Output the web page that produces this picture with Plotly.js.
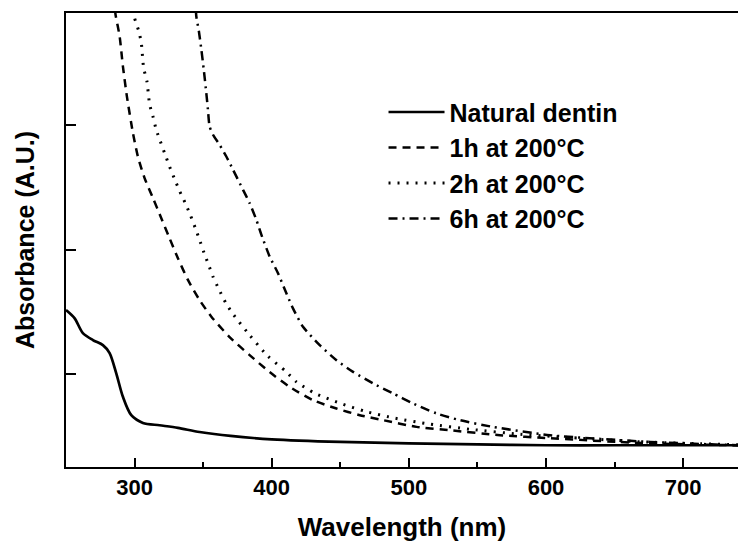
<!DOCTYPE html>
<html>
<head>
<meta charset="utf-8">
<script src="https://cdn.plot.ly/plotly-3.0.1.min.js"></script>
<style>html,body{margin:0;padding:0;background:#fff;}#chart{width:738px;height:543px;}</style>
</head>
<body>
<div id="chart"></div>
<script>
// Natural dentin
var wlNatural = [250, 256.2, 262.3, 269.6, 276.9, 281.8, 286.6, 291.5, 297.6, 306.1, 318.2, 331.6, 347.4, 370, 400, 450, 500, 550, 600, 650, 700, 740];
var absNatural = [1.514, 1.449, 1.328, 1.272, 1.231, 1.167, 1.006, 0.815, 0.667, 0.605, 0.586, 0.565, 0.532, 0.500, 0.473, 0.452, 0.441, 0.432, 0.425, 0.425, 0.425, 0.425];
// 1h at 200°C
var wl1h = [285.8, 286.1, 289.1, 291.5, 294.4, 298.8, 302.4, 307.3, 313.4, 319.5, 325.5, 331.6, 338.9, 347.4, 356.0, 369.3, 383.9, 398.5, 413.1, 430.1, 447.2, 464.2, 481.2, 505.6, 529.9, 566.4, 602.9, 651.6, 700, 740];
var abs1h = [3.93, 3.893, 3.718, 3.476, 3.234, 2.939, 2.750, 2.576, 2.415, 2.253, 2.092, 1.931, 1.756, 1.594, 1.460, 1.296, 1.151, 1.014, 0.895, 0.788, 0.721, 0.667, 0.627, 0.573, 0.546, 0.506, 0.482, 0.452, 0.433, 0.425];
// 2h at 200°C
var wl2h = [299.7, 300, 303.1, 304.9, 306.6, 309.0, 311.0, 313.4, 315.8, 318.8, 321.9, 325.5, 329.2, 332.8, 337.0, 340.9, 344.3, 347.4, 350.6, 354.0, 357.2, 361.5, 366.4, 371.8, 383.9, 397.1, 410.7, 418.0, 431.4, 449.6, 467.9, 489.8, 515.3, 544.5, 581.0, 624.8, 668.6, 712.4, 740];
var abs2h = [3.93, 3.866, 3.758, 3.665, 3.463, 3.355, 3.167, 3.073, 2.965, 2.871, 2.777, 2.669, 2.568, 2.473, 2.374, 2.272, 2.173, 2.078, 1.976, 1.877, 1.782, 1.681, 1.573, 1.481, 1.312, 1.143, 1.016, 0.935, 0.844, 0.764, 0.699, 0.643, 0.595, 0.554, 0.514, 0.482, 0.453, 0.437, 0.429];
// 6h at 200°C
var wl6h = [344.7, 345.0, 346.9, 348.7, 350.6, 352.3, 353.5, 354.7, 357.2, 362.0, 366.9, 371.8, 379.1, 383.9, 388.8, 392.5, 398.5, 404.6, 410.7, 415.5, 422.8, 435.0, 447.2, 459.3, 473.9, 488.5, 503.1, 520.2, 537.2, 561.3, 602.9, 675.9, 740];
var abs6h = [3.93, 3.879, 3.758, 3.610, 3.435, 3.261, 3.127, 2.992, 2.925, 2.844, 2.750, 2.643, 2.481, 2.374, 2.240, 2.119, 1.944, 1.810, 1.648, 1.527, 1.379, 1.231, 1.110, 1.016, 0.923, 0.842, 0.761, 0.681, 0.627, 0.573, 0.506, 0.452, 0.425];

var seriesNames = ['Natural dentin', '1h at 200°C', '2h at 200°C', '6h at 200°C'];
var xTickVals = [300, 400, 500, 600, 700];
var yTickVals = [1, 2, 3];

var lw = 2.5;
var traces = [
  {x: wlNatural, y: absNatural, name: seriesNames[0], mode: 'lines', line: {color: '#000', width: lw + 0.2, shape: 'spline', smoothing: 0.8}},
  {x: wl1h, y: abs1h, name: seriesNames[1], mode: 'lines', line: {color: '#000', width: lw, dash: '8px,6px', shape: 'spline', smoothing: 0.6}},
  {x: wl2h, y: abs2h, name: seriesNames[2], mode: 'lines', line: {color: '#000', width: lw + 0.5, dash: '2px,7px', shape: 'spline', smoothing: 0.6}},
  {x: wl6h, y: abs6h, name: seriesNames[3], mode: 'lines', line: {color: '#000', width: lw, dash: '9px,5px,2px,5px', shape: 'spline', smoothing: 0.6}}
];

var font = {family: 'Liberation Sans, Arial, Helvetica, sans-serif', color: '#000', weight: 'bold'};

var layout = {
  width: 738, height: 543,
  margin: {l: 66, r: 0, t: 13, b: 76, pad: 0},
  paper_bgcolor: '#fff', plot_bgcolor: '#fff',
  font: Object.assign({size: 22}, font),
  showlegend: true,
  legend: {
    x: 0.4725, y: 0.832, xanchor: 'left', yanchor: 'top',
    bgcolor: 'rgba(0,0,0,0)', borderwidth: 0,
    font: Object.assign({}, font, {size: 25}),
    itemwidth: 56, tracegroupgap: 0, traceorder: 'normal'
  },
  xaxis: {
    range: [250, 740], showgrid: false, zeroline: false,
    showline: true, linecolor: '#000', linewidth: 2, mirror: true,
    ticks: 'inside', ticklen: 9, tickwidth: 2, tickcolor: '#000',
    tickvals: xTickVals, ticktext: xTickVals.map(String),
    tickfont: Object.assign({}, font, {size: 22}),
    minor: {dtick: 50, tick0: 250, ticks: 'inside', ticklen: 5, tickwidth: 2, tickcolor: '#000', showgrid: false},
    title: {text: 'Wavelength (nm)', font: Object.assign({}, font, {size: 26}), standoff: 18}
  },
  yaxis: {
    range: [0.25, 3.905], showgrid: false, zeroline: false,
    showline: true, linecolor: '#000', linewidth: 2,
    ticks: 'inside', ticklen: 10, tickwidth: 2, tickcolor: '#000',
    tickvals: yTickVals, showticklabels: false,
    title: {text: 'Absorbance (A.U.)', font: Object.assign({}, font, {size: 25}), standoff: 22}
  }
};

Plotly.newPlot('chart', traces, layout, {staticPlot: true, displayModeBar: false});
</script>
</body>
</html>
